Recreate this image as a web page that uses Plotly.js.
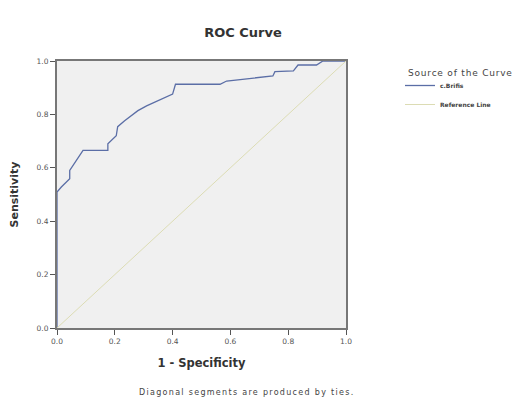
<!DOCTYPE html>
<html><head><meta charset="utf-8">
<script src="https://cdn.plot.ly/plotly-3.0.1.min.js"></script>
<style>html,body{margin:0;padding:0;background:#fff;}#chart{width:515px;height:398px;}</style>
</head><body><div id="chart"></div>
<script>
const fpr = [0, 0, 0.015, 0.044, 0.044, 0.09, 0.176, 0.176, 0.205, 0.21, 0.234, 0.28, 0.31, 0.40, 0.41, 0.564, 0.587, 0.747, 0.754, 0.818, 0.834, 0.898, 0.92, 1.0];
const tpr = [0, 0.509, 0.528, 0.559, 0.59, 0.665, 0.665, 0.69, 0.72, 0.754, 0.776, 0.814, 0.832, 0.876, 0.913, 0.913, 0.925, 0.944, 0.96, 0.963, 0.985, 0.985, 1.0, 1.0];
const refX = [0, 1];
const refY = [0, 1];
const tickVals = [0, 0.2, 0.4, 0.6, 0.8, 1.0];
const FONT = "DejaVu Sans, Verdana, sans-serif";

const PL = 57, PR = 346, PT = 61, PB = 328;
const pw = PR - PL, ph = PB - PT;
const px = v => (v - PL) / pw;
const py = v => (PB - v) / ph;

const traces = [
  {x: fpr, y: tpr, mode: 'lines', name: '<b>c.Brifis</b>', line: {color: '#5b6ea6', width: 1.3}},
  {x: refX, y: refY, mode: 'lines', name: '<b>Reference Line</b>', line: {color: '#dcdcb4', width: 1}}
];
const axisCommon = {
  range: [0, 1], tickvals: tickVals, tickformat: '.1f', ticks: 'outside', ticklen: 5,
  tickcolor: '#555', tickwidth: 1, showgrid: false, zeroline: false, showline: true,
  linecolor: '#777', linewidth: 2, mirror: true, tickfont: {family: FONT, size: 7.5, color: '#555'}, fixedrange: true
};
const layout = {
  width: 515, height: 398,
  margin: {l: PL, r: 515 - PR, t: PT, b: 398 - PB, autoexpand: false},
  paper_bgcolor: '#fff', plot_bgcolor: '#f0f0f0',
  title: {text: '<b>ROC Curve</b>', font: {family: FONT, size: 13, color: '#333'}, x: 243/515, xanchor: 'center', y: 1 - 32/398, yanchor: 'middle'},
  xaxis: Object.assign({}, axisCommon, {title: {text: '<b>1 - Specificity</b>', font: {family: FONT, size: 11.5, color: '#333'}, standoff: 14}}),
  yaxis: Object.assign({}, axisCommon, {title: {text: '<b>Sensitivity</b>', font: {family: FONT, size: 11, color: '#333'}, standoff: 16}}),
  showlegend: true,
  legend: {x: px(400), xanchor: 'left', y: py(71), yanchor: 'top',
    font: {family: FONT, size: 6, color: '#444'}, tracegroupgap: 12, itemwidth: 30, bgcolor: 'rgba(0,0,0,0)'},
  annotations: [
    {text: '<span style="letter-spacing:0.8px">Source of the Curve</span>', xref: 'paper', yref: 'paper', x: px(406), y: py(73), showarrow: false,
     font: {family: FONT, size: 9, color: '#444'}, xanchor: 'left', yanchor: 'middle'},
    {text: '<span style="letter-spacing:1.3px">Diagonal segments are produced by ties.</span>', xref: 'paper', yref: 'paper', x: px(247), y: py(392), showarrow: false,
     font: {family: FONT, size: 8, color: '#444'}, xanchor: 'center', yanchor: 'middle'}
  ]
};
Plotly.newPlot('chart', traces, layout, {displayModeBar: false, staticPlot: true});
</script></body></html>
